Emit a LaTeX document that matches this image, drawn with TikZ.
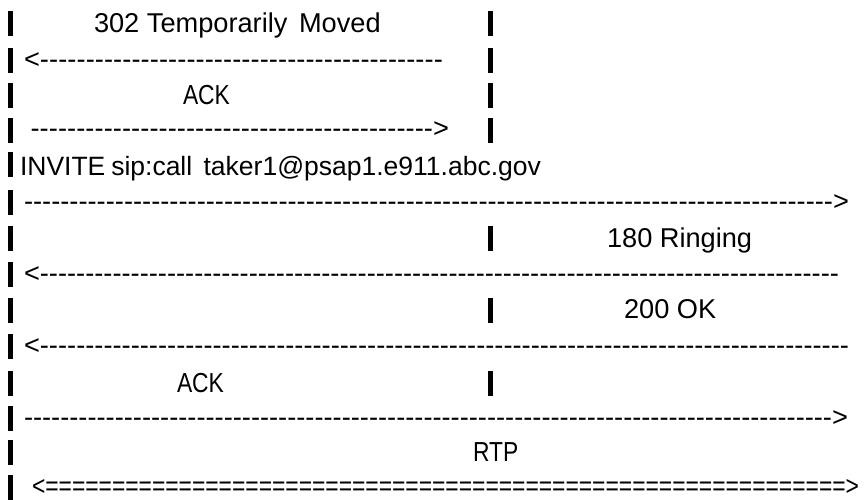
\documentclass[tikz,border=0pt]{standalone}
\usepackage{fontspec}
\setmainfont{Liberation Sans}
\newfontfamily\narrowfont{Liberation Sans}[FakeStretch=0.83]
% runs of dashes / equals filling an exact width
\newcommand\leftrun[1]{\hbox to #1{<\xleaders\hbox{-}\hfill}}
\newcommand\rightrun[1]{\hbox to #1{\xleaders\hbox{-}\hfill>}}
\newcommand\bothrun[1]{\hbox to #1{<\xleaders\hbox{=}\hfill>}}
\begin{document}
\begin{tikzpicture}[x=1pt,y=-1pt,
  msg/.style={anchor=base west,inner sep=0pt,outer sep=0pt,
    font=\fontsize{27.2}{30}\selectfont},
  narrow/.style={msg,font=\fontsize{27.5}{30}\narrowfont},
  bar/.style={fill=black,draw=none,inner sep=0pt,
    minimum width=4.5pt,minimum height=25pt}]
\useasboundingbox (0,0) rectangle (865,499);

% left lifeline segments
\foreach \c [count=\i] in {23,60.5,95.5,130,164.5,202.5,238.5,274.5,310.5,346.5,383.5,418.5,452.5,487}
  \node[bar] (L\i) at (10.5,\c) {};

% middle lifeline segments
\foreach \c/\i in {23/1,60.5/2,95.5/3,130/4,238.5/7,310.5/9,383.5/11}
  \node[bar] (M\i) at (490.5,\c) {};

% messages
\node[msg] (t1) at (94,32) {302 Temporarily\hspace{4pt} Moved};
\node[msg] (a2) at (24,68) {\leftrun{419pt}};
\node[narrow] (t3) at (183,104) {ACK};
\node[msg] (a4) at (30.5,137.5) {\rightrun{418.5pt}};
\node[msg,font=\fontsize{26.5}{30}\selectfont] (t5) at (20,175)
  {INVITE\hspace{-1.5pt} sip:call\hspace{4pt} taker1@psap1.e911.abc.gov};
\node[msg] (a6) at (24,210) {\rightrun{825pt}};
\node[msg] (t7) at (607,247) {180 Ringing};
\node[msg] (a8) at (24,282) {\leftrun{815pt}};
\node[msg] (t9) at (624,318) {200 OK};
\node[msg] (a10) at (24,354) {\leftrun{825pt}};
\node[narrow] (t11) at (177,392.5) {ACK};
\node[msg] (a12) at (24,426) {\rightrun{824pt}};
\node[narrow] (t13) at (473,461) {RTP};
\node[narrow] (a14) at (32,495) {\bothrun{827pt}};
\end{tikzpicture}
\end{document}
